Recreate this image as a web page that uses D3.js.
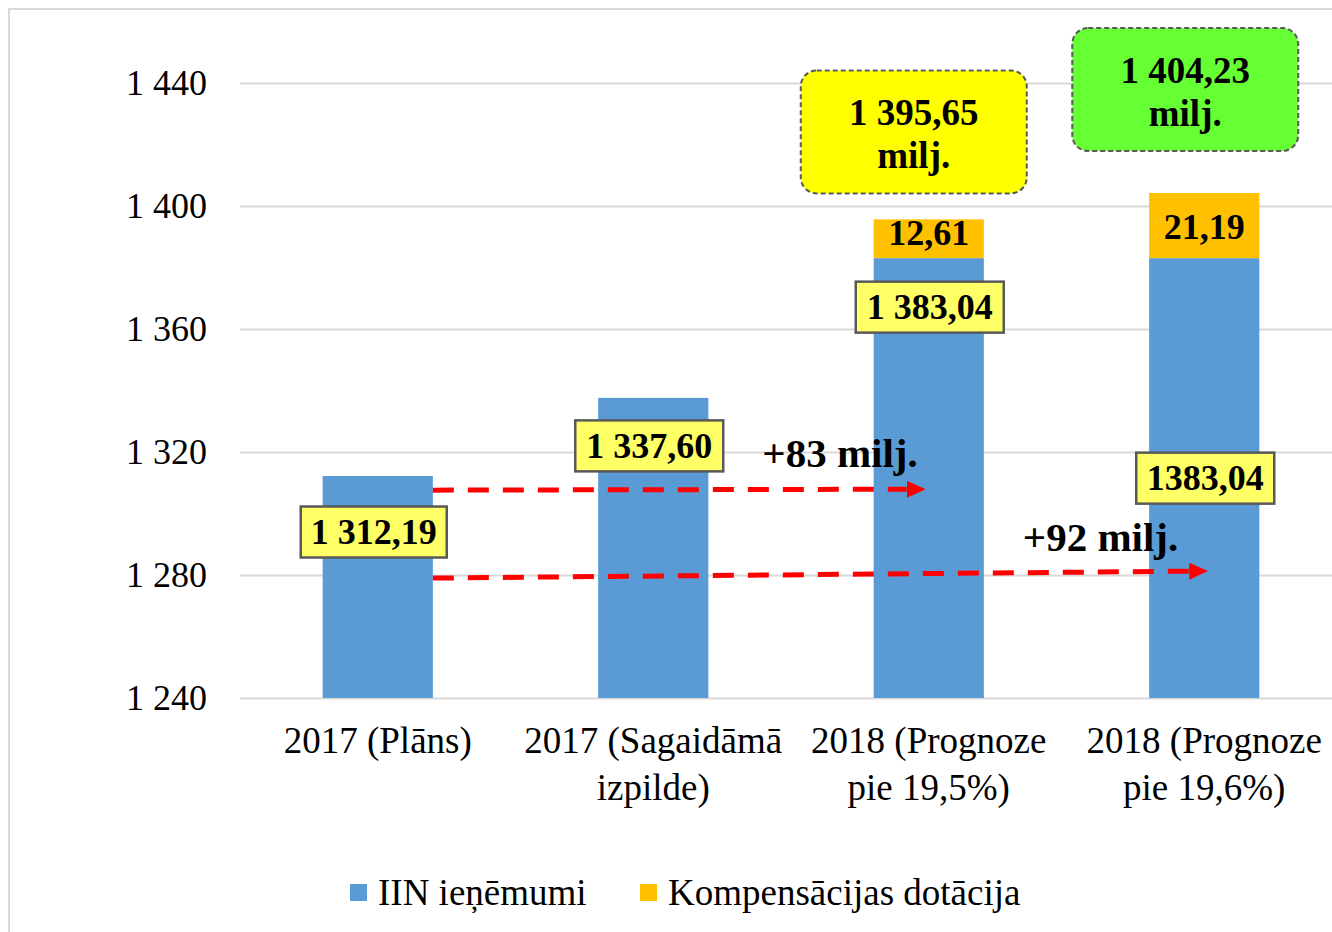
<!DOCTYPE html>
<html>

<head>
  <meta charset="utf-8" />
  <title>IIN ieņēmumi</title>
  <style>
    body {
      margin: 0;
      background: #fff;
    }

    svg text {
      font-family: "Liberation Serif", "Times New Roman", serif;
      fill: #000;
    }

    .grid line {
      stroke: #d9d9d9;
      stroke-width: 2px;
    }

    .bold {
      font-weight: bold;
    }
  </style>
  <script src="https://cdnjs.cloudflare.com/ajax/libs/d3/7.8.5/d3.min.js"></script>
</head>

<body>
  <div id="chartArea"></div>
  <script>
    // data
    var categories = ["2017 (Plāns)", "2017 (Sagaidāmā izpilde)", "2018 (Prognoze pie 19,5%)", "2018 (Prognoze pie 19,6%)"];
    var categoryLines = [["2017 (Plāns)"], ["2017 (Sagaidāmā", "izpilde)"], ["2018 (Prognoze", "pie 19,5%)"], ["2018 (Prognoze", "pie 19,6%)"]];
    var iinValues = [1312.19, 1337.60, 1383.04, 1383.04];
    var dotacijaValues = [0, 0, 12.61, 21.19];
    var iinLabels = ["1 312,19", "1 337,60", "1 383,04", "1383,04"];
    var seriesNames = ["IIN ieņēmumi", "Kompensācijas dotācija"];
    var yTicks = [1240, 1280, 1320, 1360, 1400, 1440];
    // dashed arrows: from bar index -> to bar index, start / end value
    var arrowFrom = [0, 0];
    var arrowTo = [2, 3];
    var arrowStart = [1307.6, 1279.0];
    var arrowEnd = [1307.9, 1281.3];
    var arrowLabels = ["+83 milj.", "+92 milj."];

    var colors = ["#5b9bd5", "#ffc000"];
    var W = 1332, H = 932;
    var plot = { left: 240, right: 1342, top: 21.5, bottom: 698 };

    var locale = d3.formatLocale({ decimal: ",", thousands: " ", grouping: [3], currency: ["", ""] });
    var fmtTick = locale.format(",d");
    var fmtVal = locale.format(",.2f");

    var rows = categories.map((c, i) => ({ cat: c, iin: iinValues[i], dot: dotacijaValues[i] }));
    var stacked = d3.stack().keys(["iin", "dot"])(rows);

    var svg = d3.select('#chartArea')
      .append('svg')
      .attr('width', W)
      .attr('height', H);

    // outer chart border
    svg.append('rect')
      .attr('x', 9).attr('y', 9)
      .attr('width', 1400).attr('height', 1000)
      .attr('fill', 'none')
      .attr('stroke', '#d9d9d9')
      .attr('stroke-width', 2);

    var x = d3.scaleBand()
      .domain(categories)
      .range([plot.left, plot.right])
      .paddingInner(0.6)
      .paddingOuter(0.3);

    var y = d3.scaleLinear()
      .domain([1240, 1460])
      .range([plot.bottom, plot.top])
      .clamp(true);

    // gridlines + y labels
    var yAxis = svg.append('g')
      .attr('class', 'grid')
      .attr('transform', 'translate(' + plot.left + ',0)')
      .call(d3.axisLeft(y)
        .tickValues(yTicks)
        .tickFormat(fmtTick)
        .tickSize(-(plot.right - plot.left))
        .tickPadding(33));
    yAxis.select('.domain').remove();
    yAxis.selectAll('text')
      .style('font-size', '36px')
      .attr('fill', '#000');

    // bars
    svg.append('g')
      .selectAll('g')
      .data(stacked)
      .join('g')
      .attr('fill', (d, i) => colors[i])
      .selectAll('rect')
      .data(d => d)
      .join('rect')
      .attr('x', d => x(d.data.cat))
      .attr('width', x.bandwidth())
      .attr('y', d => y(d[1]))
      .attr('height', d => y(d[0]) - y(d[1]));

    // category labels
    var xAxis = svg.append('g')
      .attr('transform', 'translate(0,' + plot.bottom + ')')
      .call(d3.axisBottom(x).tickSize(0).tickFormat(''));
    xAxis.select('.domain').remove();
    xAxis.selectAll('.tick text').remove();
    xAxis.selectAll('.tick')
      .append('text')
      .attr('text-anchor', 'middle')
      .style('font-size', '37px')
      .selectAll('tspan')
      .data((d, i) => categoryLines[i])
      .join('tspan')
      .attr('x', 0)
      .attr('y', (d, j) => 55 + j * 47)
      .text(d => d);

    // dashed arrows
    var headLen = 19, headHalf = 8.5;
    svg.append('defs').append('marker')
      .attr('id', 'head')
      .attr('markerUnits', 'userSpaceOnUse')
      .attr('markerWidth', headLen)
      .attr('markerHeight', headHalf * 2)
      .attr('refX', 0)
      .attr('refY', headHalf)
      .attr('orient', 'auto')
      .append('path')
      .attr('d', 'M0,0 L' + headLen + ',' + headHalf + ' L0,' + headHalf * 2 + ' Z')
      .attr('fill', '#ff0000');

    var arrowTipDx = [-3, 4];
    var arrowLabelDx = [-8, -30];
    var arrowLabelDy = [-22, -20];
    arrowFrom.forEach((f, i) => {
      var x0 = x(categories[f]) + x.bandwidth();
      var y0 = y(arrowStart[i]);
      var x1 = x(categories[arrowTo[i]]) + x.bandwidth() / 2 + arrowTipDx[i];
      var y1 = y(arrowEnd[i]);
      var ang = Math.atan2(y1 - y0, x1 - x0);
      svg.append('line')
        .attr('x1', x0).attr('y1', y0)
        .attr('x2', x1 - headLen * Math.cos(ang))
        .attr('y2', y1 - headLen * Math.sin(ang))
        .attr('stroke', '#ff0000')
        .attr('stroke-width', 5)
        .attr('stroke-dasharray', '21,14')
        .attr('marker-end', 'url(#head)');
      svg.append('text')
        .attr('class', 'bold')
        .attr('x', x1 + arrowLabelDx[i])
        .attr('y', y1 + arrowLabelDy[i])
        .attr('text-anchor', 'end')
        .style('font-size', '41px')
        .text(arrowLabels[i]);
    });

    // boxed labels for IIN values
    var boxDx = [-4, -4, 1, 1];
    var boxDy = [56, 48, 49, 220];
    var boxW = [146, 148, 148, 138], boxH = 51;
    iinValues.forEach((v, i) => {
      var cx = x(categories[i]) + x.bandwidth() / 2 + boxDx[i];
      var cy = y(v) + boxDy[i];
      svg.append('rect')
        .attr('x', cx - boxW[i] / 2).attr('y', cy - boxH / 2)
        .attr('width', boxW[i]).attr('height', boxH)
        .attr('fill', '#ffff66')
        .attr('stroke', '#595959')
        .attr('stroke-width', 2.5);
      svg.append('text')
        .attr('class', 'bold')
        .attr('x', cx).attr('y', cy + 12)
        .attr('text-anchor', 'middle')
        .style('font-size', '36px')
        .text(iinLabels[i]);
    });

    // compensation labels inside the orange segment
    var dotLabelDy = [0, 0, 6, 13];
    dotacijaValues.forEach((v, i) => {
      if (!v) return;
      var cx = x(categories[i]) + x.bandwidth() / 2;
      var cy = (y(iinValues[i]) + y(iinValues[i] + v)) / 2;
      svg.append('text')
        .attr('class', 'bold')
        .attr('x', cx).attr('y', cy + dotLabelDy[i])
        .attr('text-anchor', 'middle')
        .style('font-size', '36px')
        .text(fmtVal(v));
    });

    // total callouts
    var calloutFill = ["#ffff00", "#66ff33"];
    var calloutDx = [-15, -19];
    var calloutGap = [26, 42];
    var cW = 226, cH = 123;
    [2, 3].forEach((ci, k) => {
      var total = iinValues[ci] + dotacijaValues[ci];
      var cx = x(categories[ci]) + x.bandwidth() / 2 + calloutDx[k];
      var bottom = y(total) - calloutGap[k];
      var top = bottom - cH;
      svg.append('rect')
        .attr('x', cx - cW / 2).attr('y', top)
        .attr('width', cW).attr('height', cH)
        .attr('rx', 16).attr('ry', 16)
        .attr('fill', calloutFill[k])
        .attr('stroke', '#595959')
        .attr('stroke-width', 2)
        .attr('stroke-dasharray', '5,3');
      var t = svg.append('text')
        .attr('class', 'bold')
        .attr('text-anchor', 'middle')
        .style('font-size', '37px');
      t.append('tspan').attr('x', cx).attr('y', top + 55).text(fmtVal(total));
      t.append('tspan').attr('x', cx).attr('y', top + 98).text('milj.');
    });

    // legend
    var legendX = [350, 640];
    var legend = svg.append('g')
      .selectAll('g')
      .data(seriesNames)
      .join('g')
      .attr('transform', (d, i) => 'translate(' + legendX[i] + ',884)');
    legend.append('rect')
      .attr('width', 17).attr('height', 17)
      .attr('fill', (d, i) => colors[i]);
    legend.append('text')
      .attr('x', 28).attr('y', 21)
      .style('font-size', '37px')
      .text(d => d);
  </script>
</body>

</html>
